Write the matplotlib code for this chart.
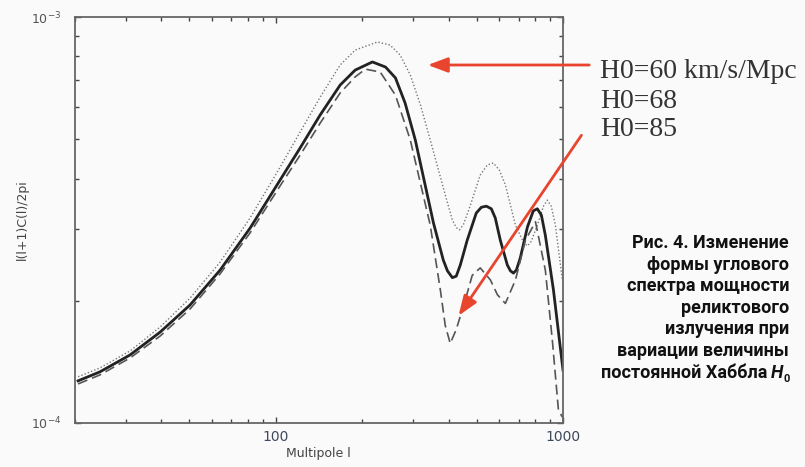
import matplotlib
matplotlib.use('Agg')
import matplotlib.pyplot as plt
from matplotlib.ticker import FixedLocator, NullFormatter

# ---- data (multipole l, l(l+1)C_l/2pi in units of 1e-4) ----
l_60 = [20.5, 24.4, 31.1, 39.6, 50.3, 64.0, 81.4, 103.6, 121.6, 142.8, 167.6, 189, 226, 250,
        271, 294, 319, 345, 389, 412, 425, 436, 450, 476, 515, 545, 572, 600, 630, 683, 730, 752,
        775, 814, 855, 882, 910, 941, 995]
c_60 = [1.30, 1.366, 1.505, 1.724, 2.03, 2.49, 3.20, 4.27, 5.21, 6.35, 7.62, 8.29, 8.68, 8.53,
        8.06, 7.20, 6.07, 4.98, 3.65, 3.16, 3.03, 2.99, 3.08, 3.44, 4.08, 4.32, 4.37, 4.20, 3.86, 3.07, 2.78, 2.73,
        2.80, 3.07, 3.42, 3.54, 3.42, 3.07, 2.25]

l_68 = [20.5, 24.4, 31.1, 39.6, 50.3, 64.0, 81.4, 103.6, 121.6, 142.8, 167.6, 189, 217, 241,
        261, 282, 306, 354, 383, 396, 412, 425, 439, 464, 499, 520, 541, 563, 581, 605, 640, 656, 672,
        688, 710, 752, 788, 814, 841, 868, 926, 1000]
c_68 = [1.27, 1.336, 1.471, 1.675, 1.953, 2.38, 3.02, 3.97, 4.76, 5.74, 6.80, 7.40, 7.75, 7.53,
        7.08, 6.14, 4.98, 3.11, 2.52, 2.37, 2.28, 2.30, 2.45, 2.82, 3.29, 3.40, 3.42, 3.37, 3.20, 2.82, 2.45, 2.37, 2.34,
        2.38, 2.55, 3.04, 3.33, 3.37, 3.25, 2.90, 2.13, 1.35]

l_85 = [20.5, 24.4, 31.1, 39.6, 50.3, 64.0, 81.4, 103.6, 121.6, 142.8, 167.6, 189, 205, 231,
        261, 294, 345, 374, 389, 405, 425, 457, 483, 515, 559, 591, 630, 683, 740, 802, 868, 918, 964, 995]
c_85 = [1.248, 1.313, 1.446, 1.638, 1.909, 2.33, 2.94, 3.84, 4.57, 5.48, 6.50, 7.12, 7.44, 7.32,
        6.42, 4.98, 3.07, 2.13, 1.74, 1.57, 1.70, 2.01, 2.31, 2.41, 2.25, 2.07, 1.97, 2.25, 2.82, 3.13, 2.38, 1.60, 1.076, 1.034]

scale = 1e-4
x_ticks = [100, 1000]
x_ticklabels = ['100', '1000']
labels = ['H0=60 km/s/Mpc', 'H0=68', 'H0=85']
caption = ['Рис. 4. Изменение', 'формы углового', 'спектра мощности',
           'реликтового', 'излучения при', 'вариации величины']
caption_last = 'постоянной Хаббла'

W, H = 805, 467
fig = plt.figure(figsize=(W / 100, H / 100), dpi=100, facecolor='#fafafa')
ax = fig.add_axes([75 / W, 1 - 423 / H, (563 - 75) / W, (423 - 17) / H])
ax.set_facecolor('#fafafa')

ax.plot(l_60, [v * scale for v in c_60], color='#777777', lw=1.0, ls=(0, (1, 1.5)))
ax.plot(l_68, [v * scale for v in c_68], color='#222222', lw=2.0, ls='-')
ax.plot(l_85, [v * scale for v in c_85], color='#555555', lw=1.2, ls=(0, (6, 3)))

ax.set_xscale('log')
ax.set_yscale('log')
ax.set_xlim(20, 1000)
ax.set_ylim(1e-4, 1e-3)

ax.xaxis.set_major_locator(FixedLocator(x_ticks))
ax.set_xticklabels(x_ticklabels)
ax.xaxis.set_minor_locator(FixedLocator([20, 30, 40, 50, 60, 70, 80, 90, 200, 300, 400, 500, 600, 700, 800, 900]))
ax.xaxis.set_minor_formatter(NullFormatter())
ax.yaxis.set_minor_formatter(NullFormatter())
ax.tick_params(which='both', direction='in', top=True, right=True, color='#444444')
ax.tick_params(which='major', length=4, width=1)
ax.tick_params(which='minor', length=3, width=1)
ax.tick_params(axis='x', labelsize=10, labelcolor='#3d4a5c', pad=5)
ax.tick_params(axis='y', labelsize=9, labelcolor='#555555', pad=10)
for s in ax.spines.values():
    s.set_color('#666666')
    s.set_linewidth(1.3)

fig.text(318 / W, 1 - 453 / H, 'Multipole l', ha='center', va='center', fontsize=9, color='#444444')
fig.text(22 / W, 1 - 220 / H, 'l(l+1)C(l)/2pi', ha='center', va='center', rotation=90,
         fontsize=9, color='#444444')

serif = ['Liberation Serif', 'DejaVu Serif']
for txt, yc in zip(labels, [72, 101, 130]):
    fig.text(600 / W, 1 - yc / H, txt, ha='left', va='center', fontsize=20,
             family=serif, color='#333333')

red = '#e8442e'
ax.annotate('', xy=(425 / W, 1 - 65 / H), xycoords='figure fraction',
            xytext=(592 / W, 1 - 65 / H), textcoords='figure fraction',
            arrowprops=dict(arrowstyle='-|>,head_length=1.2,head_width=0.45', color=red, lw=2))
ax.annotate('', xy=(457 / W, 1 - 318 / H), xycoords='figure fraction',
            xytext=(583 / W, 1 - 133 / H), textcoords='figure fraction',
            arrowprops=dict(arrowstyle='-|>,head_length=1.2,head_width=0.45', color=red, lw=2))

cap_font = ['Liberation Sans Narrow', 'Roboto', 'DejaVu Sans']
for i, line in enumerate(caption):
    fig.text(789 / W, 1 - (243 + 21.6 * i) / H, line, ha='right', va='center', fontsize=13,
             fontweight='bold', family=cap_font, color='#111111')
y_last = 243 + 21.6 * 6
fig.text(767 / W, 1 - y_last / H, caption_last, ha='right', va='center', fontsize=13,
         fontweight='bold', family=cap_font, color='#111111')
fig.text(771 / W, 1 - y_last / H, 'H', ha='left', va='center', fontsize=13,
         fontweight='bold', fontstyle='italic', family=cap_font, color='#111111')
fig.text(783 / W, 1 - (y_last + 6) / H, '0', ha='left', va='center', fontsize=8,
         fontweight='bold', family=cap_font, color='#111111')

fig.savefig('out.png', dpi=100, facecolor=fig.get_facecolor())
